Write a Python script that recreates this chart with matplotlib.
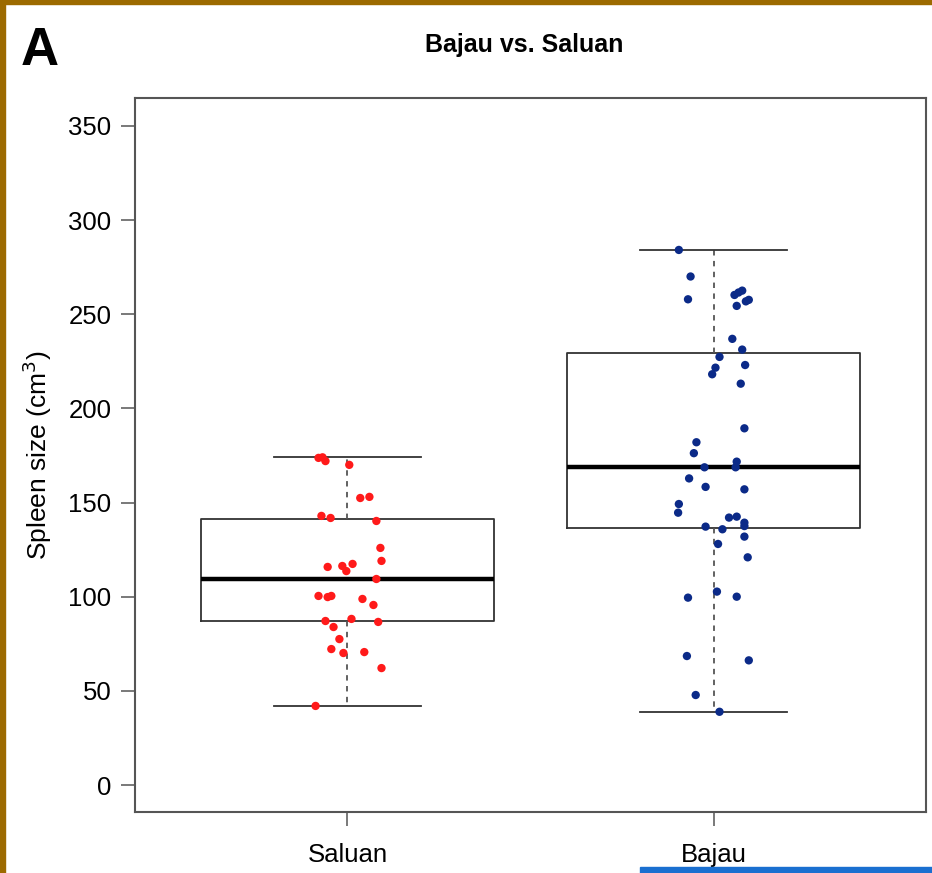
import matplotlib.pyplot as plt
from matplotlib.patches import Rectangle

plt.rcParams['font.family'] = ['Liberation Sans', 'DejaVu Sans']

groups = ["Saluan", "Bajau"]

saluan = [173.7, 174, 172, 170, 152.4, 153, 142.9, 141.8, 140.2, 125.9, 119,
          115.8, 116.3, 117.4, 113.6, 109.4, 100.4, 99.8, 100.4, 98.8, 95.6,
          87.1, 88.2, 86.6, 83.9, 77.5, 72.2, 70.1, 70.6, 62.1, 42]
saluan_jitter = [-0.079, -0.068, -0.06, 0.005, 0.035, 0.06, -0.071, -0.046,
                 0.079, 0.09, 0.093, -0.054, -0.014, 0.014, -0.003, 0.079,
                 -0.079, -0.054, -0.044, 0.041, 0.071, -0.06, 0.011, 0.084,
                 -0.038, -0.022, -0.044, -0.011, 0.046, 0.093, -0.087]

bajau = [284.1, 270, 257.9, 262.5, 260.2, 257.6, 254.4, 236.9, 231.2, 227.3,
         223, 221.6, 218.1, 213.1, 189.4, 182, 176.2, 168.7, 171.7, 168.7,
         162.8, 158.3, 157, 149.2, 144.6, 142, 142.5, 139.3, 137.5, 137.2,
         135.8, 131.9, 128, 120.9, 99.5, 102.7, 100, 68.5, 66.2, 47.8, 38.9,
         261.5, 256.8]
bajau_jitter = [-0.095, -0.063, -0.07, 0.078, 0.057, 0.096, 0.063, 0.051,
                0.078, 0.016, 0.086, 0.005, -0.004, 0.074, 0.084, -0.047,
                -0.054, -0.025, 0.063, 0.06, -0.067, -0.022, 0.084, -0.095,
                -0.097, 0.042, 0.063, 0.084, 0.084, -0.022, 0.024, 0.084,
                0.012, 0.093, -0.07, 0.009, 0.063, -0.073, 0.096, -0.049,
                0.016, 0.068, 0.088]

colors = ["#ff1a1a", "#0b2a88"]
y_ticks = [0, 50, 100, 150, 200, 250, 300, 350]

fig = plt.figure(figsize=(9.32, 8.73), dpi=100)
ax = fig.add_axes([0.1449, 0.0699, 0.8487, 0.8179])

edge = "#333333"
ax.boxplot([saluan, bajau], positions=[1, 2], widths=0.8, whis=(0, 100),
           boxprops=dict(color=edge, linewidth=1.3),
           medianprops=dict(color="black", linewidth=3.2),
           whiskerprops=dict(color="#555555", linewidth=1.3, linestyle=(0, (3, 3))),
           capprops=dict(color=edge, linewidth=1.3),
           capwidths=0.4, showfliers=False, zorder=1)

for i, (vals, jit) in enumerate([(saluan, saluan_jitter), (bajau, bajau_jitter)]):
    xs = [i + 1 + j for j in jit]
    ax.scatter(xs, vals, s=36, color=colors[i], edgecolors="none", zorder=3)

ax.set_xlim(0.42, 2.58)
ax.set_ylim(-14.3, 364.8)
ax.set_yticks(y_ticks)
ax.set_xticks([1, 2])
ax.set_xticklabels(groups)
ax.tick_params(axis="both", labelsize=18.5, length=10, width=1.1,
               color="#555555")
ax.tick_params(axis="y", pad=7)
ax.tick_params(axis="x", pad=12)
for s in ax.spines.values():
    s.set_color("#555555")
    s.set_linewidth(1.5)

ax.set_ylabel("Spleen size (cm$^3$)", fontsize=19, labelpad=10)
fig.text(0.5622, 0.949, "Bajau vs. Saluan", ha="center", va="center",
         fontsize=18, fontweight="bold")
fig.text(0.022, 0.9416, "A", ha="left", va="center", fontsize=38,
         fontweight="bold")

# frame remnants of the original figure
fig.patches.append(Rectangle((0, 0.9955), 1, 0.0045, transform=fig.transFigure,
                             color="#9c6a00", zorder=10))
fig.patches.append(Rectangle((0, 0), 0.0055, 1, transform=fig.transFigure,
                             color="#9c6a00", zorder=10))
fig.patches.append(Rectangle((0.687, 0), 0.313, 0.0072, transform=fig.transFigure,
                             color="#1a6fd0", zorder=10))

fig.savefig("out.png", dpi=100)
